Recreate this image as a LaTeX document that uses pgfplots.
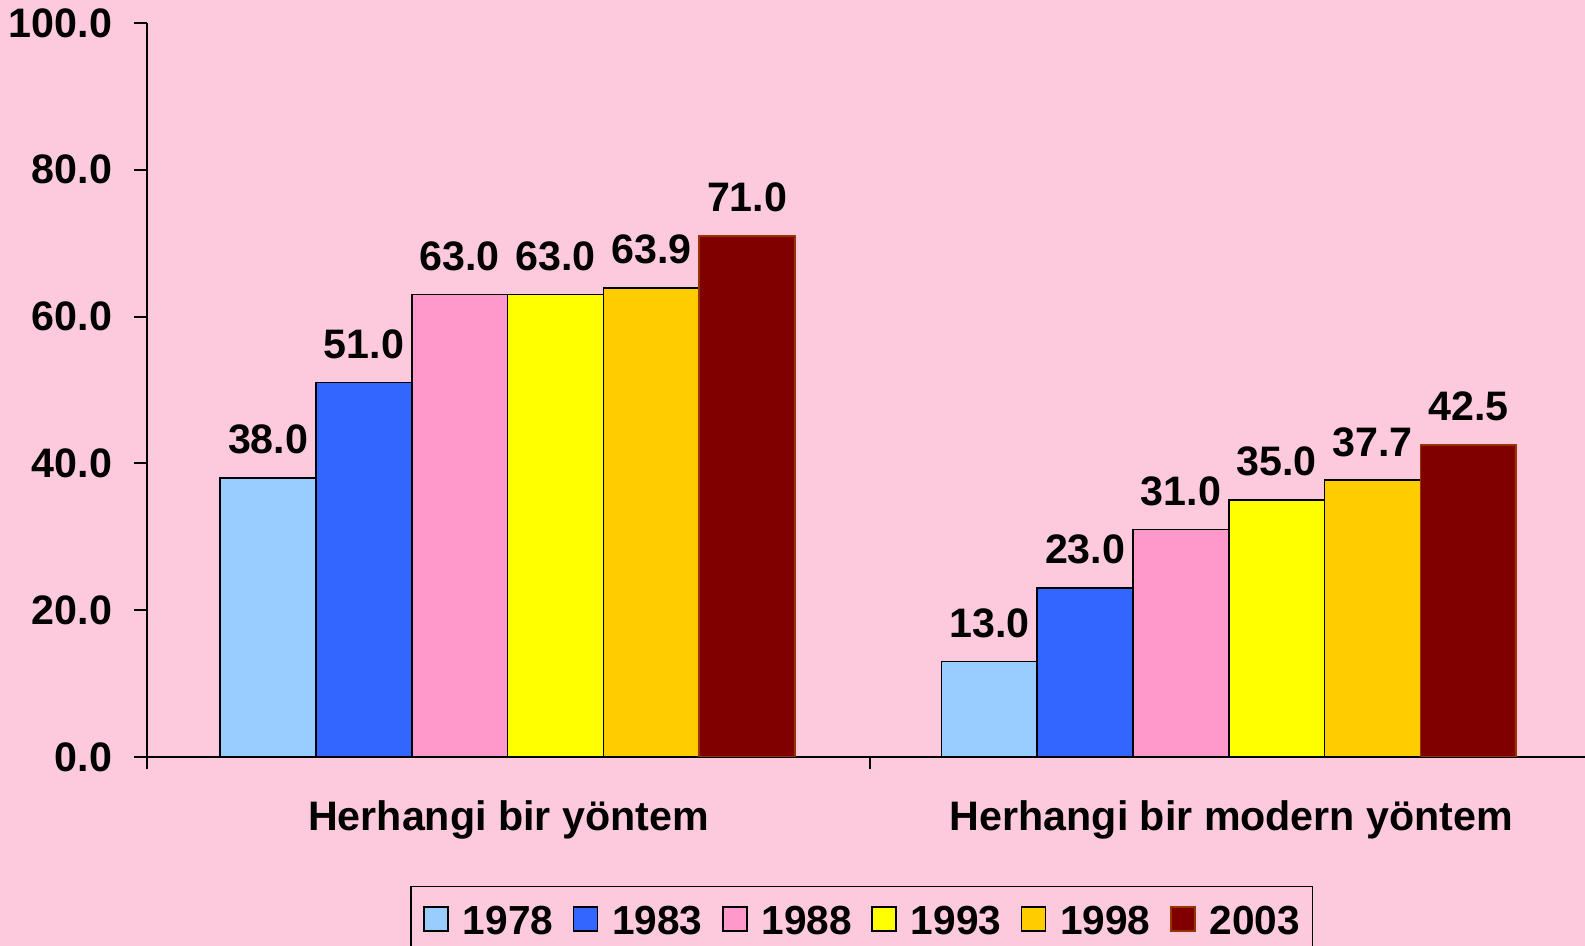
\documentclass[border=0pt]{standalone}
\usepackage{fontspec}
\setmainfont{Liberation Sans}
\usepackage{pgfplots}
\pgfplotsset{compat=1.18}
\definecolor{bgpink}{RGB}{252,202,220}
\definecolor{c1978}{RGB}{153,204,255}
\definecolor{c1983}{RGB}{51,102,255}
\definecolor{c1988}{RGB}{255,153,204}
\definecolor{c1993}{RGB}{255,255,0}
\definecolor{c1998}{RGB}{255,204,0}
\definecolor{c2003}{RGB}{128,0,0}
\definecolor{e2003}{RGB}{153,51,0}
\newcommand\cf{\fontsize{20.6}{24}\selectfont\bfseries}
\newcommand\lf{\fontsize{20.3}{23}\selectfont\bfseries}
\begin{document}
\cf
\begin{tikzpicture}
\path[use as bounding box, fill=bgpink] (0,0) rectangle (792.5pt,473pt);
\clip (0,0) rectangle (792.5pt,473pt);
\begin{axis}[
  at={(73.5pt,94.5pt)}, anchor=south west,
  scale only axis, width=723pt, height=367pt,
  xmin=-0.5, xmax=1.5, ymin=0, ymax=100,
  axis x line*=bottom, axis y line*=left,
  axis line style={line width=1pt, black},
  ybar, bar width=0.1325,
  tick align=outside, major tick length=6.25pt,
  tick style={black, line width=1pt},
  ytick={0,20,40,60,80,100},
  /pgf/number format/assume math mode=true,
  yticklabel style={font=\cf, anchor=east, inner sep=0pt, xshift=-11pt,
     /pgf/number format/.cd, fixed, fixed zerofill, precision=1},
  xtick={-0.5,0.5,1.5},
  x tick label as interval,
  xticklabels={Herhangi bir yöntem, Herhangi bir modern yöntem},
  xticklabel style={font=\cf, anchor=base, inner sep=0pt, yshift=-30.5pt},
  nodes near coords,
  nodes near coords style={font=\cf, inner sep=0pt, anchor=south, yshift=11.5pt,
     /pgf/number format/.cd, fixed, fixed zerofill, precision=1, assume math mode=true},
  legend columns=6,
  legend style={at={(0.18188,-0.17575)}, anchor=north west, draw=black,
     line width=0.75pt, fill=none, inner xsep=6.3pt, inner ysep=9.5pt,
     nodes={inner sep=0pt, font=\lf, yshift=5pt}, column sep=0pt,
     /tikz/every odd column/.append style={column sep=7pt},
     /tikz/every even column/.append style={column sep=9.7pt}},
  legend image code/.code={\draw[#1, line width=0.8pt] (0pt,1pt) rectangle (12pt,13pt);},
]
\addplot[fill=c1978, draw=black, line width=0.8pt, bar shift=0pt] coordinates {(-0.3325,38.0) (0.665,13.0)};
\addplot[fill=c1983, draw=black, line width=0.8pt, bar shift=0pt] coordinates {(-0.2,51.0) (0.7975,23.0)};
\addplot[fill=c1988, draw=black, line width=0.8pt, bar shift=0pt] coordinates {(-0.0675,63.0) (0.93,31.0)};
\addplot[fill=c1993, draw=black, line width=0.8pt, bar shift=0pt] coordinates {(0.065,63.0) (1.0625,35.0)};
\addplot[fill=c1998, draw=black, line width=0.8pt, bar shift=0pt] coordinates {(0.1975,63.9) (1.195,37.7)};
\addplot[fill=c2003, draw=e2003, line width=0.8pt, bar shift=0pt] coordinates {(0.33,71.0) (1.3275,42.5)};
\legend{1978,1983,1988,1993,1998,2003}
\end{axis}
\end{tikzpicture}
\end{document}
